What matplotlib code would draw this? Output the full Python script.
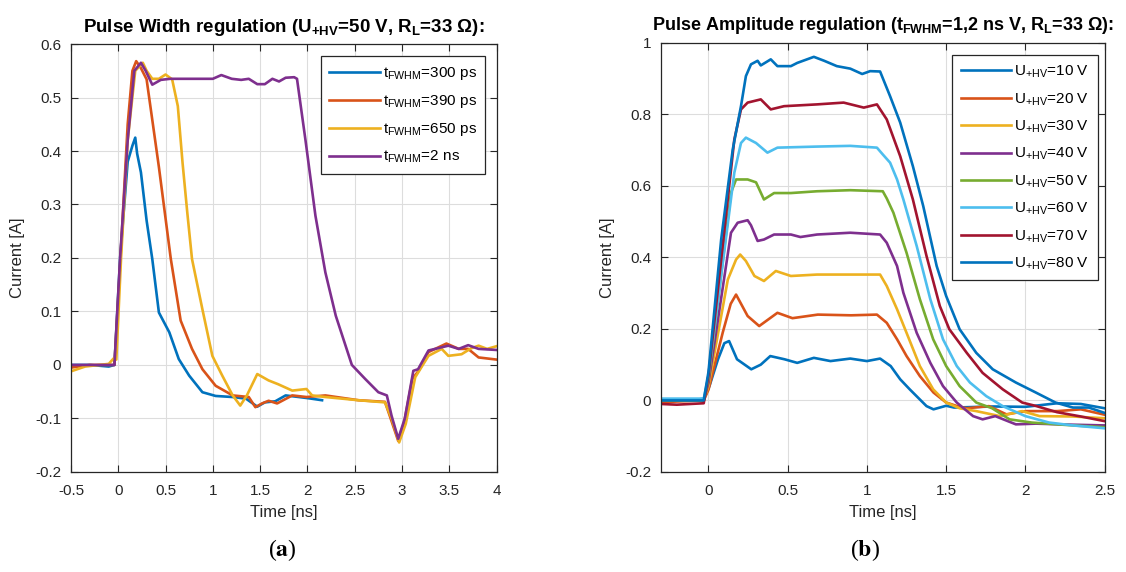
import numpy as np
import matplotlib
matplotlib.use("Agg")
import matplotlib.pyplot as plt
from matplotlib.ticker import FormatStrFormatter

plt.rcParams['font.family'] = ['Liberation Sans', 'DejaVu Sans']
plt.rcParams['axes.unicode_minus'] = False

# MATLAB default line colours
C = ['#0072BD', '#D95319', '#EDB120', '#7E2F8E', '#77AC30', '#4DBEEE', '#A2142F']

# ---- (a) pulse width regulation ----
t_300 = [-0.5, -0.3, -0.1, -0.04, 0.02, 0.1, 0.15, 0.18, 0.2, 0.24, 0.30, 0.36, 0.43, 0.54, 0.64,
         0.75, 0.89, 1.03, 1.21, 1.35, 1.47, 1.55, 1.66, 1.77, 1.91, 2.0, 2.155]
i_300 = [0.0, 0.0, -0.003, 0.0, 0.2, 0.38, 0.41, 0.425, 0.395, 0.36, 0.27, 0.198, 0.098, 0.061, 0.011,
         -0.02, -0.051, -0.058, -0.06, -0.063, -0.078, -0.07, -0.068, -0.057, -0.06, -0.062, -0.066]

t_390 = [-0.5, -0.3, -0.04, 0.03, 0.1, 0.15, 0.19, 0.24, 0.30, 0.43, 0.556, 0.66, 0.78, 0.89, 1.03,
         1.21, 1.38, 1.45, 1.52, 1.59, 1.68, 1.84, 1.99, 2.19, 2.54, 2.82, 2.88, 2.96, 3.02, 3.11,
         3.18, 3.28, 3.47, 3.6, 3.7, 3.81, 4.0]
i_390 = [-0.005, 0.0, 0.0, 0.22, 0.45, 0.55, 0.568, 0.555, 0.534, 0.37, 0.198, 0.083, 0.03, -0.008, -0.039,
         -0.057, -0.06, -0.079, -0.072, -0.067, -0.072, -0.057, -0.06, -0.057, -0.066, -0.069, -0.1, -0.142,
         -0.11, -0.026, -0.01, 0.024, 0.04, 0.03, 0.03, 0.014, 0.01]

t_650 = [-0.5, -0.35, -0.1, -0.05, -0.02, 0.03, 0.1, 0.18, 0.26, 0.3, 0.36, 0.43, 0.50, 0.57, 0.63,
         0.68, 0.73, 0.78, 0.89, 0.995, 1.10, 1.21, 1.29, 1.36, 1.47, 1.59, 1.69, 1.84, 1.99, 2.05,
         2.19, 2.54, 2.82, 2.89, 2.97, 3.04, 3.14, 3.28, 3.42, 3.49, 3.63, 3.73, 3.81, 3.9, 4.0]
i_650 = [-0.012, -0.003, 0.002, 0.012, 0.01, 0.2, 0.42, 0.55, 0.565, 0.55, 0.535, 0.535, 0.543, 0.534, 0.484,
         0.378, 0.285, 0.198, 0.104, 0.017, -0.02, -0.057, -0.076, -0.057, -0.017, -0.029, -0.036, -0.048,
         -0.045, -0.057, -0.06, -0.066, -0.07, -0.1, -0.145, -0.11, -0.023, 0.017, 0.03, 0.017, 0.02, 0.031,
         0.036, 0.03, 0.035]

t_2n = [-0.5, -0.04, 0.02, 0.1, 0.17, 0.24, 0.29, 0.36, 0.45, 0.55, 0.7, 0.85, 1.0, 1.09, 1.2, 1.3,
        1.38, 1.47, 1.55, 1.63, 1.7, 1.77, 1.86, 1.89, 1.98, 2.085, 2.19, 2.30, 2.47, 2.61, 2.75, 2.84,
        2.89, 2.96, 3.03, 3.12, 3.17, 3.28, 3.49, 3.6, 3.70, 3.81, 4.0]
i_2n = [0.0, 0.0, 0.2, 0.42, 0.55, 0.565, 0.55, 0.524, 0.533, 0.535, 0.535, 0.535, 0.535, 0.542, 0.535,
        0.533, 0.535, 0.525, 0.525, 0.535, 0.53, 0.537, 0.538, 0.535, 0.42, 0.279, 0.173, 0.092, 0.0,
        -0.026, -0.051, -0.057, -0.095, -0.138, -0.1, -0.011, -0.008, 0.027, 0.036, 0.03, 0.037, 0.03, 0.028]

labels_a = [r'$\mathregular{t_{FWHM}}$=300 ps', r'$\mathregular{t_{FWHM}}$=390 ps',
            r'$\mathregular{t_{FWHM}}$=650 ps', r'$\mathregular{t_{FWHM}}$=2 ns']

# ---- (b) pulse amplitude regulation ----
t_10 = [-0.3, -0.1, -0.03, 0.006, 0.06, 0.1, 0.13, 0.18, 0.27, 0.33, 0.39, 0.48, 0.56, 0.665, 0.77,
        0.895, 1.0, 1.083, 1.15, 1.21, 1.27, 1.376, 1.42, 1.50, 1.55, 1.8, 2.0, 2.2, 2.35, 2.5]
i_10 = [0.0, 0.0, 0.005, 0.04, 0.115, 0.16, 0.166, 0.115, 0.087, 0.10, 0.124, 0.115, 0.105, 0.119, 0.11,
        0.117, 0.11, 0.117, 0.096, 0.059, 0.031, -0.016, -0.025, -0.015, -0.02, -0.017, -0.018, -0.008,
        -0.01, -0.022]

t_20 = [-0.3, -0.03, 0.0, 0.09, 0.14, 0.174, 0.247, 0.32, 0.435, 0.53, 0.69, 0.9, 1.063, 1.125, 1.19,
        1.25, 1.334, 1.42, 1.5, 1.57, 1.63, 1.77, 1.88, 2.0, 2.2, 2.35, 2.5]
i_20 = [-0.005, 0.0, 0.03, 0.19, 0.27, 0.296, 0.236, 0.208, 0.245, 0.23, 0.24, 0.238, 0.24, 0.217, 0.171,
        0.124, 0.068, 0.022, -0.006, -0.016, -0.022, -0.016, -0.039, -0.03, -0.03, -0.025, -0.04]

t_30 = [-0.3, -0.03, 0.0, 0.122, 0.174, 0.2, 0.236, 0.29, 0.35, 0.425, 0.52, 0.685, 0.895, 1.083, 1.125,
        1.19, 1.25, 1.334, 1.418, 1.5, 1.585, 1.69, 1.84, 1.98, 2.09, 2.3, 2.5]
i_30 = [0.0, 0.0, 0.04, 0.338, 0.394, 0.408, 0.39, 0.348, 0.334, 0.362, 0.348, 0.352, 0.352, 0.352, 0.32,
        0.255, 0.189, 0.096, 0.031, -0.006, -0.022, -0.03, -0.044, -0.03, -0.044, -0.045, -0.05]

t_40 = [-0.3, -0.03, 0.0, 0.142, 0.184, 0.247, 0.268, 0.31, 0.35, 0.414, 0.52, 0.58, 0.685, 0.895, 1.083,
        1.125, 1.19, 1.23, 1.314, 1.4, 1.48, 1.567, 1.67, 1.73, 1.81, 1.94, 2.066, 2.3, 2.5]
i_40 = [0.0, 0.0, 0.05, 0.469, 0.497, 0.504, 0.49, 0.446, 0.45, 0.464, 0.464, 0.457, 0.464, 0.469, 0.464,
        0.441, 0.376, 0.301, 0.189, 0.105, 0.04, -0.006, -0.044, -0.053, -0.044, -0.067, -0.065, -0.068, -0.07]

t_50 = [-0.3, -0.03, 0.0, 0.142, 0.174, 0.247, 0.3, 0.35, 0.414, 0.52, 0.685, 0.895, 1.1, 1.125, 1.167,
        1.25, 1.334, 1.418, 1.5, 1.585, 1.69, 1.79, 1.9, 2.04, 2.3, 2.5]
i_50 = [0.0, 0.0, 0.06, 0.581, 0.618, 0.618, 0.61, 0.562, 0.58, 0.58, 0.585, 0.588, 0.585, 0.565, 0.525,
        0.413, 0.283, 0.171, 0.096, 0.04, -0.006, -0.022, -0.053, -0.062, -0.07, -0.075]

t_60 = [-0.3, -0.03, 0.0, 0.163, 0.205, 0.236, 0.3, 0.372, 0.435, 0.685, 0.895, 1.063, 1.10, 1.146, 1.19,
        1.23, 1.314, 1.4, 1.48, 1.567, 1.65, 1.753, 1.857, 2.0, 2.15, 2.3, 2.5]
i_60 = [0.005, 0.005, 0.07, 0.637, 0.72, 0.735, 0.72, 0.693, 0.707, 0.71, 0.712, 0.707, 0.688, 0.665, 0.618,
        0.562, 0.432, 0.283, 0.171, 0.096, 0.05, 0.012, -0.016, -0.044, -0.062, -0.07, -0.078]

t_70 = [-0.3, -0.2, -0.03, 0.0, 0.163, 0.205, 0.247, 0.33, 0.393, 0.477, 0.685, 0.853, 0.98, 1.063, 1.125,
        1.21, 1.29, 1.376, 1.46, 1.52, 1.63, 1.73, 1.857, 1.98, 2.07, 2.2, 2.35, 2.5]
i_70 = [-0.01, -0.012, -0.008, 0.07, 0.73, 0.814, 0.833, 0.842, 0.814, 0.823, 0.828, 0.833, 0.819, 0.828,
        0.786, 0.683, 0.562, 0.404, 0.264, 0.199, 0.133, 0.077, 0.031, -0.006, -0.016, -0.033, -0.045, -0.058]

t_80 = [-0.3, -0.03, 0.0, 0.08, 0.153, 0.205, 0.236, 0.268, 0.31, 0.33, 0.393, 0.435, 0.52, 0.56, 0.665,
        0.73, 0.81, 0.895, 0.97, 1.02, 1.083, 1.146, 1.21, 1.29, 1.355, 1.44, 1.50, 1.585, 1.69, 1.794,
        1.94, 2.066, 2.19, 2.3, 2.4, 2.5]
i_80 = [0.0, 0.0, 0.08, 0.45, 0.702, 0.823, 0.907, 0.94, 0.95, 0.937, 0.954, 0.935, 0.935, 0.944, 0.961,
        0.95, 0.935, 0.928, 0.913, 0.921, 0.92, 0.851, 0.777, 0.655, 0.544, 0.376, 0.292, 0.199, 0.133,
        0.087, 0.05, 0.022, -0.006, -0.02, -0.02, -0.035]

volts = [10, 20, 30, 40, 50, 60, 70, 80]
labels_b = [r'$\mathregular{U_{+HV}}$=%d V' % u for u in volts]

TXT = '#262626'


def style_axes(ax):
    ax.grid(True, color='#dddddd', linewidth=0.8)
    ax.set_axisbelow(True)
    ax.tick_params(direction='in', top=True, right=True, length=5, width=0.8,
                   colors=TXT, labelsize=11, pad=7)
    ax.tick_params(axis='x', pad=9)
    for sp in ax.spines.values():
        sp.set_color(TXT)
        sp.set_linewidth(0.9)
    ax.yaxis.set_major_formatter(FormatStrFormatter('%g'))
    ax.xaxis.set_major_formatter(FormatStrFormatter('%g'))
    ax.set_xlabel('Time [ns]', fontsize=12, color=TXT, labelpad=5)
    ax.set_ylabel('Current [A]', fontsize=12, color=TXT, labelpad=7)


def add_legend(ax, x_anchor):
    leg = ax.legend(loc='upper right', bbox_to_anchor=(x_anchor, 0.971), fontsize=11, handlelength=3.3,
                    handletextpad=0.2, labelspacing=0.72, borderpad=0.55, fancybox=False,
                    framealpha=1, edgecolor=TXT, borderaxespad=0)
    leg.get_frame().set_linewidth(0.9)
    return leg


fig = plt.figure(figsize=(11.26, 5.72), dpi=100)

# (a)
ax1 = fig.add_axes([0.063, 0.175, 0.378, 0.748])
series_a = [(t_300, i_300), (t_390, i_390), (t_650, i_650), (t_2n, i_2n)]
for k, (t, v) in enumerate(series_a):
    ax1.plot(t, v, color=C[k], lw=1.9, label=labels_a[k])
ax1.set_xlim(-0.5, 4)
ax1.set_ylim(-0.2, 0.6)
ax1.set_xticks(np.arange(-0.5, 4.01, 0.5))
ax1.set_yticks(np.arange(-0.2, 0.61, 0.1))
style_axes(ax1)
ax1.set_title(r'Pulse Width regulation ($\mathregular{U_{+HV}}$=50 V, $\mathregular{R_L}$=33 Ω):',
              fontsize=13.5, fontweight='bold', color='black', pad=9)
add_legend(ax1, 0.973)

# (b)
ax2 = fig.add_axes([0.587, 0.175, 0.394, 0.75])
series_b = [(t_10, i_10), (t_20, i_20), (t_30, i_30), (t_40, i_40),
            (t_50, i_50), (t_60, i_60), (t_70, i_70), (t_80, i_80)]
for k, (t, v) in enumerate(series_b):
    ax2.plot(t, v, color=C[k % 7], lw=1.9, label=labels_b[k])
ax2.set_xlim(-0.3, 2.5)
ax2.set_ylim(-0.2, 1.0)
ax2.set_xticks(np.arange(0, 2.51, 0.5))
ax2.set_yticks(np.arange(-0.2, 1.01, 0.2))
style_axes(ax2)
ax2.set_title(r'Pulse Amplitude regulation ($\mathregular{t_{FWHM}}$=1,2 ns V, $\mathregular{R_L}$=33 Ω):',
              fontsize=13, fontweight='bold', color='black', pad=9)
add_legend(ax2, 0.984)

# panel letters
fig.text(282 / 1126, 1 - 550 / 572, r'($\mathbf{a}$)', family='Liberation Serif', math_fontfamily='stix',
         fontsize=17, ha='center', va='center')
fig.text(865 / 1126, 1 - 550 / 572, r'($\mathbf{b}$)', family='Liberation Serif', math_fontfamily='stix',
         fontsize=17, ha='center', va='center')

fig.savefig('out.png', dpi=100)
